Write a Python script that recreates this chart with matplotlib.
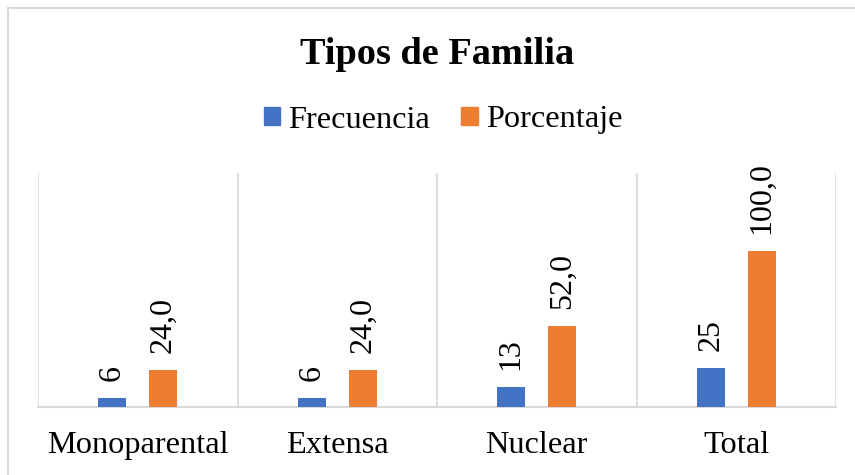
import matplotlib
matplotlib.use("Agg")
import matplotlib.pyplot as plt
from matplotlib.lines import Line2D
from matplotlib.patches import Patch
import numpy as np

categories = ["Monoparental", "Extensa", "Nuclear", "Total"]
frecuencia = [6, 6, 13, 25]
porcentaje = [24.0, 24.0, 52.0, 100.0]
frec_labels = ["6", "6", "13", "25"]
porc_labels = ["24,0", "24,0", "52,0", "100,0"]
series_names = ["Frecuencia", "Porcentaje"]

BLUE = "#4472C4"
ORANGE = "#ED7D31"
GRID = "#D9D9D9"
SERIF = ["Liberation Serif", "DejaVu Serif"]

plt.rcParams["font.family"] = SERIF

fig = plt.figure(figsize=(8.55, 4.75), dpi=100)
ax = fig.add_axes([38/855, 68/475, (836-38)/855, (407-173)/475])

x = np.arange(len(categories))
w = 0.14
off = 0.128
b1 = ax.bar(x - off, frecuencia, w, color=BLUE, zorder=3)
b2 = ax.bar(x + off, porcentaje, w, color=ORANGE, zorder=3)

for bars, labs in ((b1, frec_labels), (b2, porc_labels)):
    for r, lab in zip(bars, labs):
        ax.annotate(lab, (r.get_x() + r.get_width()/2, r.get_height()),
                    xytext=(0, 12), textcoords="offset points",
                    rotation=90, ha="center", va="bottom",
                    fontsize=23, color="black", family=SERIF)

ax.set_xlim(-0.5, len(categories) - 0.5)
ax.set_ylim(0, 150)
ax.set_xticks(x)
ax.set_xticklabels(categories, fontsize=23.3, family=SERIF)
ax.set_xticks(np.arange(-0.5, len(categories)), minor=True)
ax.tick_params(axis="x", which="both", length=0, pad=17)
ax.set_yticks([])
ax.grid(axis="x", which="minor", color=GRID, linewidth=1.2, zorder=0)
for s in ("top", "right", "left"):
    ax.spines[s].set_visible(False)
ax.spines["bottom"].set_color(GRID)
ax.spines["bottom"].set_linewidth(1.5)

fig.text(437.5/855, 1 - 55/475, "Tipos de Familia",
         ha="center", va="center", fontsize=27.6, fontweight="bold", family=SERIF)

handles = [Patch(color=BLUE), Patch(color=ORANGE)]
fig.legend(handles, series_names, loc="center", bbox_to_anchor=(443/855, 1 - 120/475),
           ncol=2, frameon=False, prop={"family": SERIF, "size": 23.3},
           handlelength=0.5, handleheight=0.5, handletextpad=0.25, columnspacing=0.97)

# outer chart border (top and left visible)
fig.add_artist(Line2D([8/855, 1], [1 - 8/475, 1 - 8/475], color=GRID, linewidth=1.5,
                      transform=fig.transFigure))
fig.add_artist(Line2D([8/855, 8/855], [0, 1 - 8/475], color=GRID, linewidth=1.5,
                      transform=fig.transFigure))

fig.savefig("out.png", dpi=100)
